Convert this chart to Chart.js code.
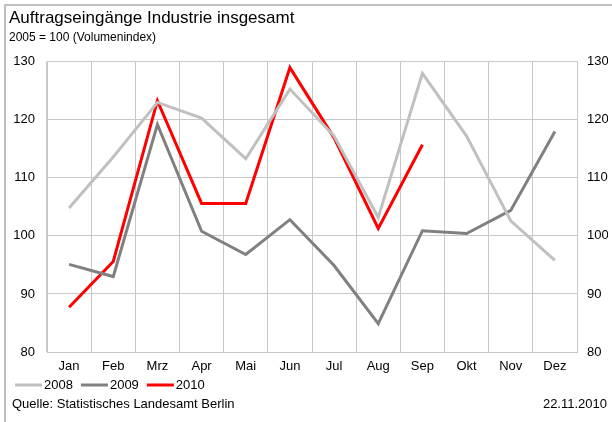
<!DOCTYPE html>
<html>
<head>
<meta charset="utf-8">
<script src="https://cdn.jsdelivr.net/npm/chart.js@4/dist/chart.umd.min.js"></script>
<style>
  html, body { margin: 0; padding: 0; background: #fff; }
  #wrap { width: 612px; height: 422px; }
</style>
</head>
<body>
<div id="wrap"><canvas id="myChart" width="612" height="422"></canvas></div>
<script>
const months = ['Jan', 'Feb', 'Mrz', 'Apr', 'Mai', 'Jun', 'Jul', 'Aug', 'Sep', 'Okt', 'Nov', 'Dez']
const values2008 = [104.8, 113.6, 123.0, 120.3, 113.3, 125.3, 117.2, 103.2, 128.0, 117.2, 102.6, 95.8]
const values2009 = [95.1, 93.0, 119.2, 100.8, 96.8, 102.8, 94.9, 84.9, 100.9, 100.4, 104.4, 118.0]
const values2010 = [87.7, 95.6, 123.3, 105.6, 105.6, 129.0, 116.9, 101.3, 115.7]
const yMin = 80
const yMax = 130
const yStep = 10

const fontFamily = '"Liberation Sans", Arial, sans-serif'
const gridColor = '#c8c8c8'

// Rahmen oben/links, Legende und Fusszeile
const framePlugin = {
  id: 'frame',
  beforeDraw(chart) {
    const ctx = chart.ctx
    ctx.save()
    ctx.fillStyle = '#fff'
    ctx.fillRect(0, 0, chart.width, chart.height)
    ctx.strokeStyle = '#c0c0c0'
    ctx.lineWidth = 2
    ctx.beginPath()
    ctx.moveTo(5, chart.height)
    ctx.lineTo(5, 5)
    ctx.lineTo(chart.width, 5)
    ctx.stroke()
    ctx.restore()
  },
  afterDraw(chart) {
    const ctx = chart.ctx
    ctx.save()
    ctx.font = '13px ' + fontFamily
    ctx.textBaseline = 'middle'
    ctx.textAlign = 'left'

    // Legende
    let x = 15
    const y = 385
    chart.data.datasets.forEach(ds => {
      ctx.strokeStyle = ds.borderColor
      ctx.lineWidth = 3
      ctx.beginPath()
      ctx.moveTo(x, y)
      ctx.lineTo(x + 27, y)
      ctx.stroke()
      ctx.fillStyle = '#000'
      ctx.fillText(ds.label, x + 29, y)
      x += 29 + ctx.measureText(ds.label).width + 8
    })

    ctx.fillStyle = '#000'
    ctx.fillText('Quelle: Statistisches Landesamt Berlin', 12, 404)
    ctx.textAlign = 'right'
    ctx.fillText('22.11.2010', 607, 404)
    ctx.restore()
  }
}

const ctx = document.getElementById('myChart')

const data = {
  labels: months,
  datasets: [
    { label: '2008', data: values2008, borderColor: '#c0c0c0', backgroundColor: '#c0c0c0' },
    { label: '2009', data: values2009, borderColor: '#808080', backgroundColor: '#808080' },
    { label: '2010', data: values2010, borderColor: '#ff0000', backgroundColor: '#ff0000' }
  ].map(d => Object.assign(d, {
    borderWidth: 3,
    pointRadius: 0,
    tension: 0,
    fill: false,
    yAxisID: 'y'
  }))
}

const tickFont = { family: fontFamily, size: 13 }

new Chart(ctx, {
  type: 'line',
  data: data,
  plugins: [framePlugin],
  options: {
    responsive: false,
    animation: false,
    layout: { padding: { left: 9, right: 4, top: 4, bottom: 44 } },
    plugins: {
      title: {
        display: true,
        text: 'Auftragseingänge Industrie insgesamt',
        align: 'start',
        color: '#000',
        font: { family: fontFamily, size: 17, weight: 'normal' },
        padding: { top: 4, bottom: 2 }
      },
      subtitle: {
        display: true,
        text: '2005 = 100 (Volumenindex)',
        align: 'start',
        color: '#000',
        font: { family: fontFamily, size: 12, weight: 'normal' },
        padding: { top: 0, bottom: 17 }
      },
      legend: { display: false },
      tooltip: { enabled: false }
    },
    scales: {
      x: {
        offset: true,
        grid: { offset: true, color: gridColor, lineWidth: 1, drawTicks: false },
        border: { color: gridColor },
        ticks: { color: '#000', font: tickFont, padding: 7, maxRotation: 0, autoSkip: false },
        afterFit: scale => { scale.height = 26 }
      },
      y: {
        position: 'left',
        min: yMin,
        max: yMax,
        grid: { color: gridColor, lineWidth: 1, drawTicks: false },
        border: { color: gridColor },
        ticks: { stepSize: yStep, color: '#000', font: tickFont, padding: 12 },
        afterFit: scale => { scale.width = 38 }
      },
      y2: {
        position: 'right',
        min: yMin,
        max: yMax,
        grid: { display: false, drawTicks: false },
        border: { color: gridColor },
        ticks: { stepSize: yStep, color: '#000', font: tickFont, padding: 10 },
        afterFit: scale => { scale.width = 31 }
      }
    }
  }
})
</script>
</body>
</html>
